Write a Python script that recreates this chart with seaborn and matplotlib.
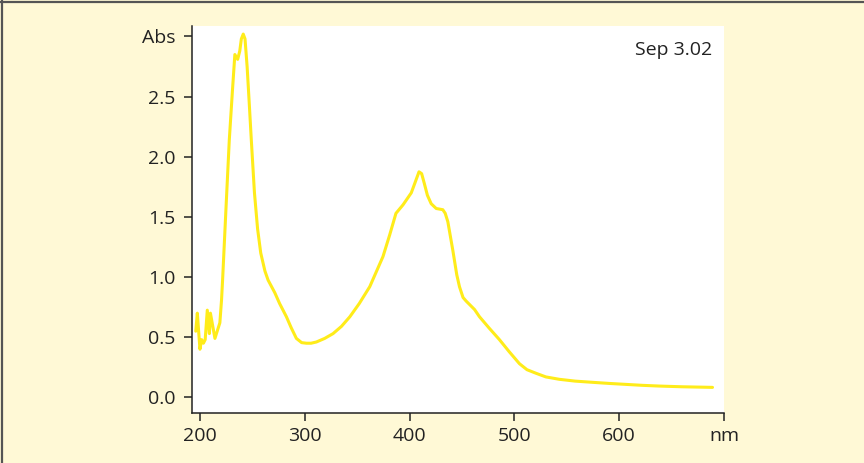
import numpy as np
import pandas as pd
import seaborn as sns
import matplotlib.pyplot as plt
from matplotlib.lines import Line2D

# Spectrum (wavelength in nm, absorbance)
wavelength = [196, 197.5, 200, 201.6, 203.3, 205, 207, 209, 210, 214.3, 219, 220.6, 221.6,
              225, 228, 231, 233.3, 236, 238, 239.5, 241.3, 243, 245, 247, 249, 252, 255,
              258, 262, 265, 271.4, 276, 282.5, 287, 292, 297, 301.6, 306, 311, 319, 327,
              335, 343, 352, 362, 374.6, 381, 387, 393.7, 401.6, 405, 409, 411.5, 414, 417,
              420.6, 425.4, 431.7, 434, 436.5, 441.3, 445, 447.6, 451, 454, 462, 466.7, 476,
              485.7, 495, 504.8, 512, 520.7, 530, 542.9, 558, 574.6, 590, 606, 622, 638,
              660, 689]
absorbance = [0.55, 0.70, 0.40, 0.48, 0.45, 0.48, 0.725, 0.53, 0.70, 0.49, 0.62, 0.81, 0.975,
              1.60, 2.14, 2.55, 2.85, 2.81, 2.88, 2.98, 3.02, 2.98, 2.75, 2.45, 2.14, 1.70, 1.40,
              1.20, 1.05, 0.975, 0.87, 0.78, 0.67, 0.58, 0.49, 0.455, 0.45, 0.45, 0.46, 0.49, 0.53,
              0.59, 0.67, 0.78, 0.92, 1.17, 1.35, 1.53, 1.60, 1.70, 1.78, 1.875, 1.86, 1.78, 1.68,
              1.61, 1.57, 1.56, 1.53, 1.46, 1.22, 1.02, 0.92, 0.83, 0.80, 0.73, 0.67, 0.575,
              0.48, 0.38, 0.28, 0.23, 0.20, 0.17, 0.15, 0.135, 0.125, 0.116, 0.108, 0.10, 0.094,
              0.088, 0.083]

x_ticks = [200, 300, 400, 500, 600, 700]
x_labels = ["200", "300", "400", "500", "600", "nm"]
y_ticks = [0.0, 0.5, 1.0, 1.5, 2.0, 2.5, 3.0]
y_labels = ["0.0", "0.5", "1.0", "1.5", "2.0", "2.5", "Abs"]

df = pd.DataFrame({"nm": wavelength, "abs": absorbance})

sns.set_style("ticks")
plt.rcParams['font.family'] = ['Open Sans', 'DejaVu Sans']

bg = "#FFF9D6"
fig = plt.figure(figsize=(8.64, 4.63), dpi=100, facecolor=bg)
ax = fig.add_axes([0.2222, 0.108, 0.6158, 0.8358])
ax.set_facecolor("white")

sns.lineplot(data=df, x="nm", y="abs", ax=ax, color="#FFEC1A", linewidth=2.2,
             estimator=None, sort=False)

ax.set_xlim(192.4, 699.5)
ax.set_ylim(-0.13, 3.087)
ax.set_xticks(x_ticks)
ax.set_xticklabels(x_labels)
ax.set_yticks(y_ticks)
ax.set_yticklabels(y_labels)
ax.set_xlabel("")
ax.set_ylabel("")

for side in ["top", "right"]:
    ax.spines[side].set_visible(False)
for side in ["left", "bottom"]:
    ax.spines[side].set_color("#222222")
    ax.spines[side].set_linewidth(1.1)
ax.tick_params(axis="both", length=6, width=1.1, color="#222222",
               labelsize=14, labelcolor="#222222")
ax.tick_params(axis="x", pad=4)
ax.tick_params(axis="y", pad=6)

ax.text(0.977, 0.938, "Sep 3.02", transform=ax.transAxes, ha="right", va="center",
        fontsize=14, color="#222222")

# dark frame on top and left edge of the panel
fig.add_artist(Line2D([0, 1], [0.996, 0.996], transform=fig.transFigure,
                      color="#555555", linewidth=1.6))
fig.add_artist(Line2D([0.002, 0.002], [0, 1], transform=fig.transFigure,
                      color="#555555", linewidth=1.6))

fig.savefig("out.png", dpi=100, facecolor=bg)
